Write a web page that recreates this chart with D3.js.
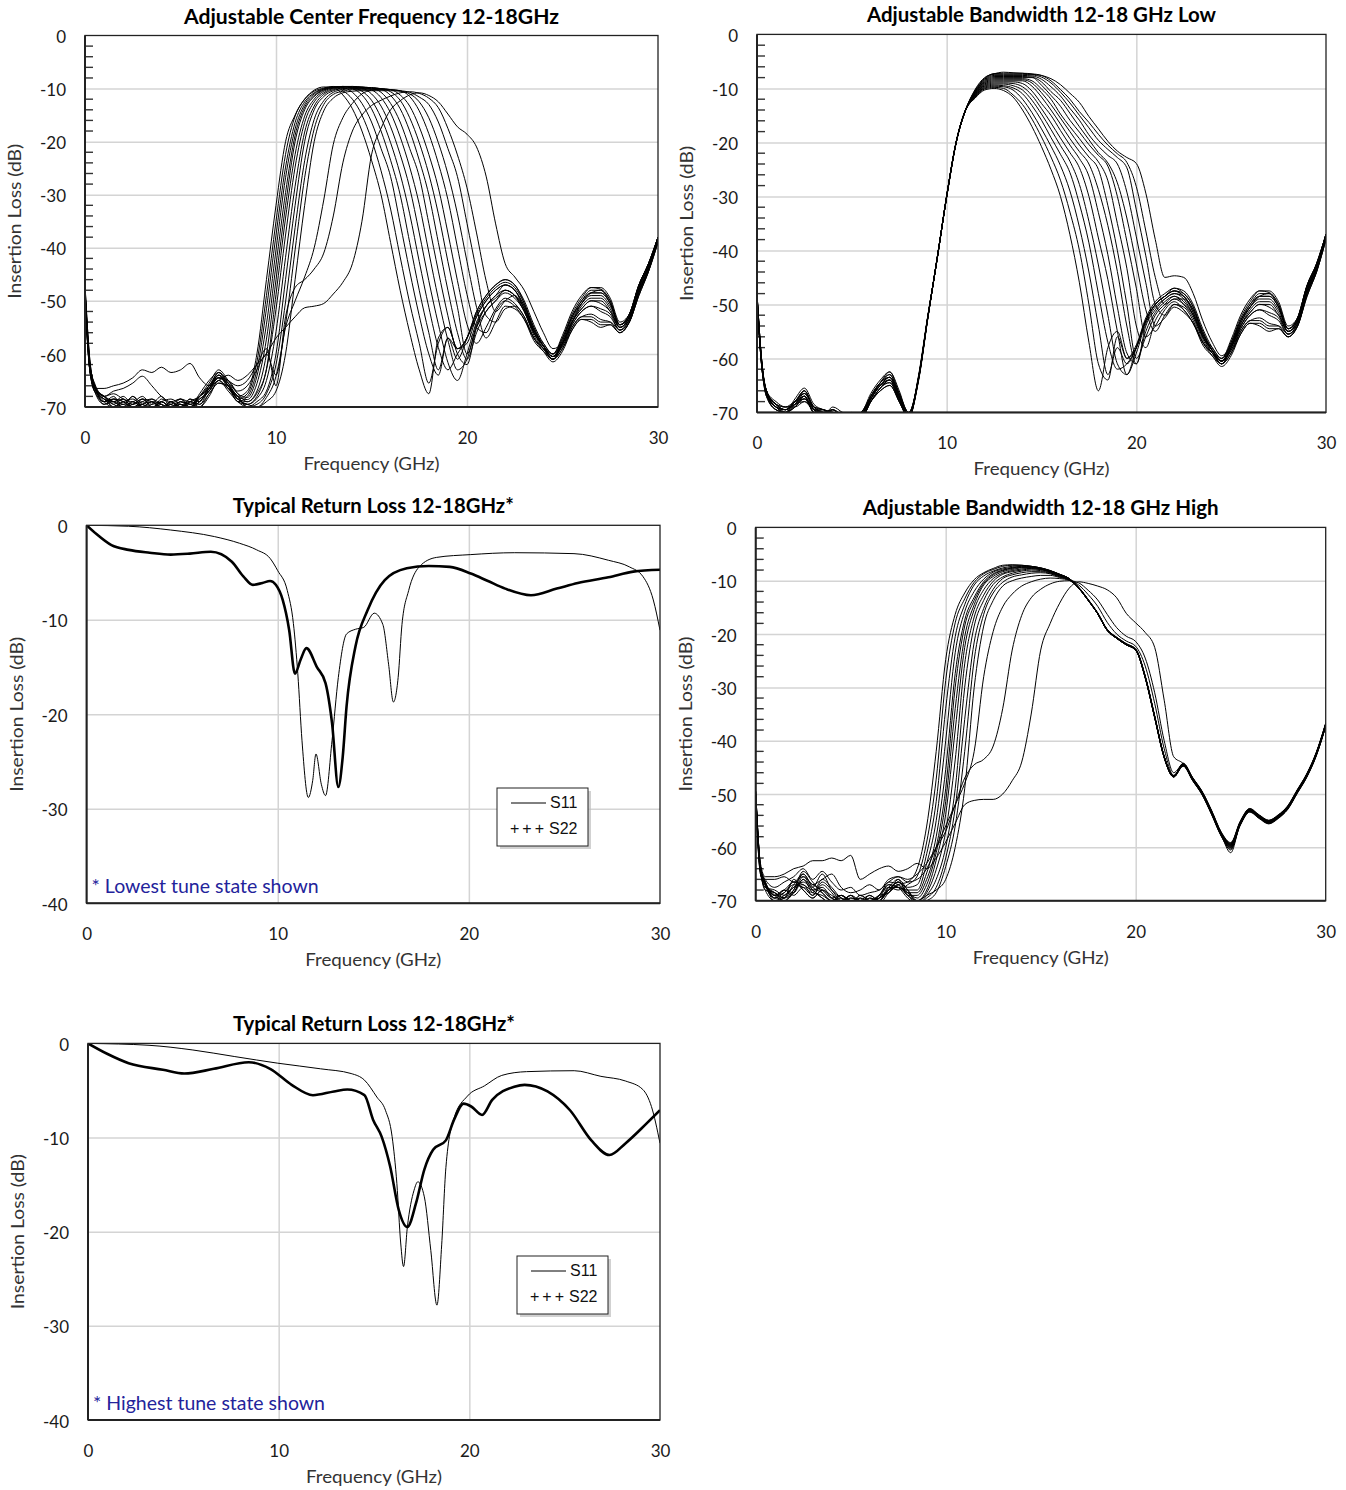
<!DOCTYPE html>
<html>
<head>
<meta charset="utf-8">
<script src="https://cdn.jsdelivr.net/npm/d3@7"></script>
<style>
  body { margin: 0; background: #fff; }
</style>
</head>
<body>
<script>
// frequency grid (GHz) shared by the insertion loss sweeps
const freqGrid = [0,0.25,0.5,1,1.5,2,2.5,3,3.5,4,4.5,5,5.5,6,6.5,7,7.5,8,8.5,9,9.5,10,10.5,11,11.5,12,12.5,13,13.5,14,14.5,15,15.5,16,16.5,17,17.5,18,18.5,19,19.5,20,20.5,21,21.5,22,22.5,23,23.5,24,24.5,25,25.5,26,26.5,27,27.5,28,28.5,29,29.5,30];

const freqTicks = [0, 10, 20, 30];
const freqGridLines = [10, 20];
const ilTicks = [0, -10, -20, -30, -40, -50, -60, -70];
const ilMinor = [-2,-4,-6,-8,-12,-14,-16,-18,-22,-24,-26,-28,-32,-34,-36,-38,-42,-44,-46,-48,-52,-54,-56,-58,-62,-64,-66,-68];
const rlTicks = [0, -10, -20, -30, -40];

// Adjustable Center Frequency 12-18GHz (one row per tune state)
const centerTune = [
  [-48,-62,-66,-68.5,-69,-68,-69.5,-69,-70.5,-68.5,-69.5,-71,-69,-68,-66,-64,-66,-68,
   -67,-60,-46,-32,-20,-15,-12,-10.3,-9.7,-9.8,-11.2,-13.8,-18,-23.5,-30,-39,-48,-56,-63,-67.5,-57,-55,-59,-57,-53,-50,-48,-47,
   -48,-51,-55,-58.5,-60.5,-57,-52.5,-49.5,-47.5,-47.8,-50,-54.5,-52.5,-47,-43,-38],
  [-49,-63,-67,-69,-68.5,-69.5,-68,-70,-69,-69.5,-71,-69.5,-70,-67.5,-65,-63.5,-65.5,-68.5,
   -67.5,-61.5,-49,-35,-22.4,-15.2,-12,-10.5,-9.9,-9.6,-10.4,-12,-15,-19.6,-25.5,-32.7,-41.7,-50.4,-58,-65.5,-58,-55,-59,-57,-52,-49,-47,-46,
   -47,-50.5,-55.5,-58,-60,-57.5,-53,-50,-48,-48,-50.5,-54.5,-52.5,-47,-43,-38],
  [-48,-62,-66.5,-68,-70,-69,-69.5,-68.5,-70,-70.5,-69,-70,-68.5,-69,-66,-64.5,-66,-69,
   -68,-63,-51.5,-37.6,-24.8,-16.4,-12.5,-10.8,-10,-9.7,-9.8,-10.7,-12.8,-16.3,-21.3,-26.6,-35.4,-44.4,-52.8,-60,-64,-57,-59,-58,-53,-50,-48,-47,
   -48,-51,-55.5,-58.5,-61,-58,-53.5,-50.5,-48.5,-48.5,-50.5,-55,-53,-47.5,-43.5,-38.5],
  [-47,-61,-66,-69,-68,-70.5,-69,-70,-69.5,-68,-70,-69.5,-70.5,-68,-65.5,-63,-65,-67.5,
   -68.2,-64.2,-54.4,-40.4,-26.8,-17.6,-13,-11,-10.1,-9.7,-9.6,-10,-11.2,-13.8,-18,-23.5,-30,-39,-48,-56,-63,-57,-61,-57,-52,-49,-47,-46,
   -47,-50,-54.5,-58,-60,-56.5,-52,-49,-47.5,-47.5,-49.5,-54,-52.5,-47,-43,-38],
  [-48.5,-62,-67,-68,-69.5,-68.5,-70,-69,-68.5,-70,-69,-70.5,-69,-69.5,-66.5,-64,-65.5,-68,
   -68.6,-65.6,-57.2,-43.2,-29.6,-18.8,-13.5,-11.3,-10.2,-9.8,-9.6,-9.8,-10.5,-12.2,-15.5,-20.2,-26.1,-33.6,-42.6,-51.2,-58.8,-63,-60,-57,-52.5,-49.5,-47.5,-46.5,
   -47.5,-50.5,-55,-58.5,-60.5,-57.5,-53,-50,-48.5,-48.5,-50.5,-54.5,-53,-47.5,-43.5,-38],
  [-49,-63,-66,-69.5,-69,-70,-68,-69.5,-70,-69,-68.5,-69.5,-70,-68,-66,-63.5,-66,-68.5,
   -69,-67,-60,-46,-32,-20,-14,-11.5,-10.3,-9.8,-9.6,-9.6,-9.9,-11,-13.3,-17.2,-22.4,-28.7,-37.2,-46.2,-54.4,-61.6,-65,-60,-54,-51,-49,-47,
   -48,-51.5,-55.5,-58.5,-60,-57,-53,-50.5,-49,-49,-51,-54.5,-53,-47.5,-43.5,-38.5],
  [-48,-62.5,-66.5,-68.5,-70,-69.5,-70.5,-68.5,-69,-70,-69.5,-68.5,-70,-69,-66.5,-64.5,-65,-67.5,
   -69,-67.4,-62.8,-48.8,-34.4,-22.4,-15.2,-12,-10.5,-9.9,-9.7,-9.6,-9.7,-10.2,-11.7,-14.6,-19.1,-24.8,-31.8,-40.8,-49.6,-57.4,-63,-61,-54.5,-51,-49,-48,
   -49,-52,-56,-58.5,-60.5,-58,-54,-51,-49.5,-49.5,-51.5,-55,-53,-47.5,-43.5,-38],
  [-47.5,-61.5,-66,-69,-68.5,-69,-70,-69.5,-68.5,-69.5,-70.5,-69,-69.5,-68.5,-67,-65,-66.5,-68.5,
   -69.5,-68,-63,-51.6,-37.6,-24.8,-16.4,-12.5,-10.8,-10,-9.7,-9.7,-9.7,-9.9,-10.7,-12.8,-16.3,-21.3,-26.6,-35.4,-44.4,-52.8,-60,-62,-55,-51,-49.5,-48,
   -49,-52,-56,-59,-61,-58,-54,-51.5,-50,-50,-52,-55,-53.5,-48,-44,-38.5],
  [-49,-63,-67,-68.5,-69.5,-70.5,-69,-70,-69,-70.5,-69,-70,-69,-70,-67.5,-65.5,-66.5,-69,
   -69.5,-68.4,-65,-55.8,-41.8,-28.4,-18.2,-13.3,-11.1,-10.2,-9.9,-9.8,-9.8,-9.8,-10.1,-11.3,-13.8,-18,-23.5,-30,-39,-48,-56,-61,-56,-52,-50,-48.5,
   -49.5,-52,-56.5,-59,-61,-58,-54.5,-52,-51,-51.5,-52.5,-55.5,-53.5,-48,-44,-38.5],
  [-48,-62,-66,-69,-70,-69,-68.5,-70,-70.5,-69,-70,-69.5,-70,-69,-67,-64.5,-66,-68,
   -70,-69,-67,-60,-46,-32,-20,-14,-11.5,-10.4,-10,-9.9,-9.9,-9.9,-10,-10.6,-12.2,-15.5,-20.2,-26.1,-33.6,-42.6,-51.2,-60,-55,-52,-50,-48,
   -49,-51.5,-56,-58.5,-60.5,-58.5,-54.5,-52,-51,-52,-53,-55.5,-54,-48.5,-44,-38.5],
  [-49.5,-63,-66.5,-68,-69,-70,-69.5,-68.5,-70,-69.5,-70.5,-69,-69.5,-70,-68,-65,-67,-69,
   -70,-69.5,-67.5,-62,-50.2,-36.2,-23.6,-15.8,-12.3,-10.7,-10.2,-10,-10,-10,-10,-10.2,-11.2,-13.3,-17.2,-22.4,-28.7,-37.2,-46.2,-54.4,-58,-55,-51.5,-49.5,
   -50.5,-53,-57,-59,-61,-59,-55,-53,-52.5,-53.5,-54,-56,-54,-48.5,-44.5,-38.5],
  [-48,-62,-67,-69.5,-68.5,-69,-70.5,-69.5,-69,-70,-69.5,-70.5,-68.5,-69.5,-67.5,-65.5,-66,-68.5,
   -69.5,-70,-68.2,-64.2,-54.4,-40.4,-26.8,-17.6,-13,-11.1,-10.5,-10.2,-10.2,-10.2,-10.2,-10.2,-10.4,-11.5,-14.2,-18.5,-24.1,-30.9,-39.9,-48.8,-55,-56,-52,-50,
   -51,-53.5,-57,-59.5,-61.5,-59.5,-55.5,-53.5,-53.5,-54.5,-54.5,-56,-54,-49,-44.5,-39],
  [-49,-63,-66,-68,-69,-68.5,-70,-69.5,-70.5,-69,-70,-69,-70,-68.5,-67,-64,-66.5,-68,
   -70,-70,-69,-67,-60,-46,-32,-20,-14.2,-11.8,-10.8,-10.5,-10.4,-10.4,-10.4,-10.4,-10.5,-11,-12.5,-15.5,-20.2,-26.1,-33.6,-42.6,-51.2,-57,-54,-51,
   -51.5,-53.5,-57.5,-59.5,-61,-59,-55.5,-53.5,-54,-55,-54.5,-56,-54,-49,-44.5,-39],
  [-47,-61,-66,-68,-67.5,-68.5,-69,-68,-69.5,-69,-70,-68.5,-69.5,-68,-66.5,-64.5,-65.5,-67,
   -66,-63,-60,-64,-55,-50,-45.5,-40,-31,-20.5,-15.5,-12.8,-11,-10.3,-10.1,-10.2,-10.4,-10.7,-11.6,-13,-16.3,-21.3,-26.6,-35.4,-44.4,-52.8,-54,-51.5,
   -51,-53,-57,-59,-60.5,-58.5,-55,-53,-53,-54,-54,-55.5,-53.5,-48.5,-44,-38.5],
  [-48,-62,-65.5,-68,-67,-66.5,-65.5,-64.2,-66,-68,-69,-68.5,-69,-68,-66.5,-63.5,-65,-66,
   -65,-62,-59,-66,-53,-47.5,-46,-44,-41,-34,-24,-18,-15,-13.2,-12.2,-11.4,-10.8,-10.6,-10.9,-11.8,-13.6,-17.5,-22.5,-28.7,-37.2,-46.2,-52,-50,
   -49,-51.5,-56,-58.5,-60.5,-58,-54,-51.5,-50,-50.5,-52,-55,-53,-48,-44,-38.5],
  [-48.5,-62.5,-66.5,-66.5,-66,-65.5,-64.5,-63,-63.5,-62.5,-63.5,-63,-61.8,-64.5,-66,-65,-64,-65,
   -64,-62,-60,-57,-55,-53,-51.3,-51,-50.5,-48.7,-46.5,-43,-35,-22.5,-17.5,-14,-12.3,-11.2,-10.8,-11.3,-12.5,-14.8,-17.2,-18.6,-21,-26.5,-35.5,-43,
   -45.5,-48,-52,-56,-59,-58,-54,-50.5,-48.5,-48,-50,-54.5,-52.5,-47,-43,-38]
];

// Adjustable Bandwidth 12-18 GHz Low
const bwLow = [
  [-48.5,-61,-66,-68.5,-69.5,-68,-66,-69,-70,-69.5,-70.5,-71,-70.5,-67,-64.5,-63,-67,-70.5,
   -64,-52.5,-41.5,-30,-20,-14,-11.8,-10.3,-10,-10.4,-11.6,-14,-17.1,-20.8,-25,-30,-37.1,-46,-57,-66,-58,-55,-60,-58,-53,-50,-48.5,-47.5,
   -48.5,-51,-55,-58.5,-60.5,-57,-52.5,-49.5,-47.5,-47.8,-50,-54.5,-52.5,-46.5,-42.5,-37],
  [-48,-60.5,-66.5,-69,-70,-67.5,-65.5,-68.5,-69.5,-70,-71,-70.5,-70,-66.5,-64,-62.5,-66,-70.5,
   -64.5,-52.8,-41.3,-30.2,-20.1,-14.1,-11.7,-10.1,-9.8,-10,-11.2,-13,-15.7,-19,-22.7,-27,-32.9,-40,-50,-61,-64,-56,-60,-57.5,-52.5,-49.5,-48,-47,
   -48,-50.5,-55.5,-58,-60,-57.5,-53,-50,-48,-48,-50.5,-54.5,-52.5,-46.5,-42.5,-37],
  [-49,-61.5,-66,-68,-69,-68.5,-66.5,-69.5,-70.5,-69,-70,-71,-71,-67.5,-65,-64,-67.5,-71,
   -63.5,-52.2,-41.6,-29.8,-19.9,-13.9,-11.6,-9.95,-9.6,-9.7,-10.3,-12,-14.5,-17.5,-20.7,-24.3,-29,-35.7,-44,-54,-63,-58,-61,-58,-53,-50,-48.5,-47.5,
   -48.5,-51,-55.5,-58.5,-61,-58,-53.5,-50.5,-48.5,-48.5,-50.5,-55,-53,-47,-43,-37.5],
  [-48.5,-61,-67,-69.5,-70,-69,-67,-70,-69.5,-70.5,-70,-71,-70,-67,-64.5,-63.5,-67,-70,
   -64.2,-52.6,-41.4,-30.1,-20,-14,-11.5,-9.8,-9.4,-9.5,-9.9,-11,-13.2,-15.9,-19.1,-22.2,-25.6,-31.4,-38.6,-48,-57,-62,-61,-58,-53,-50,-48.5,-47,
   -47.5,-50,-54.5,-58,-60,-56.5,-52,-49,-47.5,-47.5,-49.5,-54,-52.5,-46.5,-42.5,-37],
  [-48,-60.5,-66,-68.5,-69,-68,-67.5,-69,-70,-69.5,-71,-70.5,-71,-68,-65.5,-64.5,-68,-71,
   -63.8,-52.4,-41.5,-29.9,-20,-14,-11.4,-9.65,-9.2,-9.2,-9.5,-10.3,-12.2,-14.75,-17.6,-20.6,-23.5,-27.8,-34.6,-42.7,-52,-61,-63,-58,-53,-50,-48.5,-47.5,
   -48,-50.5,-55,-58.5,-60.5,-57.5,-53,-50,-48.5,-48.5,-50.5,-54.5,-53,-47,-43,-37],
  [-49,-61.5,-66.5,-69,-70,-68.5,-66,-69.5,-70.5,-70,-70.5,-71,-70.5,-67.5,-65,-63.5,-67.5,-70.5,
   -64,-52.5,-41.5,-30,-20,-14,-11.3,-9.5,-9,-9,-9.1,-9.7,-11.3,-13.75,-16.4,-19.2,-21.9,-24.7,-30,-37.7,-45.4,-55,-63,-59,-53.5,-50.5,-49,-48,
   -48.5,-51.5,-55.5,-58.5,-60,-57,-53,-50.5,-49,-49,-51,-54.5,-53,-47,-43,-37.5],
  [-48.5,-61,-66,-68.5,-69.5,-68,-67,-70,-70,-70.5,-71,-70,-71,-68,-65.5,-64,-67,-71,
   -64.3,-52.7,-41.4,-30.1,-20.1,-14,-11.2,-9.35,-8.8,-8.8,-8.8,-9.1,-10.5,-12.8,-15,-17.8,-20.5,-23,-26.25,-33,-40.8,-50.5,-59,-61,-54,-51,-49,-48,
   -49,-52,-56,-58.5,-60.5,-58,-54,-51,-49.5,-49.5,-51.5,-55,-53,-47,-43,-37],
  [-48,-60.5,-66.5,-69,-69.5,-68.5,-68,-69,-69.5,-70.5,-70.5,-71,-70.5,-67,-64.5,-63,-66.5,-70,
   -63.9,-52.3,-41.6,-29.9,-19.9,-13.9,-11.1,-9.2,-8.6,-8.6,-8.6,-8.6,-9.6,-11.6,-14,-16.6,-19.3,-21.7,-24,-28.75,-35.4,-43.9,-54,-61,-55,-51.5,-49.5,-48.5,
   -49.5,-52,-56,-59,-61,-58,-54,-51.5,-50,-50,-52,-55,-53.5,-47.5,-43.5,-37.5],
  [-49,-61.5,-67,-69.5,-70,-69,-67.5,-69.5,-70,-70,-71,-70.5,-70,-67.5,-65,-64,-67.5,-70.5,
   -64.1,-52.6,-41.5,-30,-20,-14,-11,-9.05,-8.4,-8.4,-8.4,-8.4,-9,-10.8,-13,-15.5,-18,-20.5,-22.7,-25,-31.7,-40,-50,-60,-56,-52,-50,-48.5,
   -50,-52.5,-56.5,-59,-61,-58,-54.5,-52,-51,-51.5,-52.5,-55.5,-53.5,-47.5,-43.5,-37.5],
  [-48.5,-61,-66,-68.5,-69.5,-68,-66.5,-69,-70.5,-70,-70.5,-71,-71,-68,-66,-65,-68,-71,
   -64,-52.5,-41.4,-30,-20,-14,-10.9,-8.9,-8.2,-8.2,-8.2,-8.2,-8.6,-10.1,-12,-14.75,-17.1,-19.3,-21.6,-23.6,-27.1,-35,-43.3,-54,-58,-53,-50.5,-49,
   -50,-52,-56,-58.5,-60.5,-58.5,-54.5,-52,-51,-52,-53,-55.5,-54,-48,-43.5,-37.5],
  [-48,-60.5,-66.5,-69,-70,-68.5,-67,-70,-70,-69.5,-71,-70.5,-70.5,-67,-64.5,-63.5,-67,-70.5,
   -63.7,-52.4,-41.5,-29.9,-20,-14,-10.8,-8.75,-8,-8,-8,-8,-8,-9.4,-11.3,-13.3,-15.9,-18.1,-20.4,-22.4,-24.4,-30,-38.3,-47,-56,-54,-51,-49.5,
   -51,-53.5,-57,-59,-61,-59,-55,-53,-52.5,-53.5,-54,-56,-54,-48,-44,-37.5],
  [-49,-61.5,-66,-68.5,-69,-69,-68,-69.5,-69.5,-70.5,-70,-71,-70,-67.5,-65,-64.5,-67.5,-71,
   -64.2,-52.6,-41.5,-30,-20,-14,-10.7,-8.6,-7.8,-7.8,-7.8,-7.8,-7.9,-8.8,-10.6,-12.2,-14.6,-17.1,-19.5,-21.9,-23.8,-27.5,-34,-42.5,-51,-55,-52,-50,
   -51,-53.5,-57,-59.5,-61.5,-59.5,-55.5,-53.5,-53.5,-54.5,-54.5,-56,-54,-48.5,-44,-38],
  [-48.5,-61,-66.5,-69.5,-70,-68,-66.5,-69,-70,-70,-71,-70.5,-71,-68,-65.5,-64,-68,-70.5,
   -63.9,-52.5,-41.5,-30.1,-20.1,-14,-10.6,-8.45,-7.6,-7.6,-7.6,-7.6,-7.7,-8.3,-9.7,-11.4,-13.7,-15.9,-18.6,-20.7,-22.4,-24,-29.2,-37.5,-46,-54,-52.5,-50.5,
   -51.5,-53.5,-57.5,-59.5,-61,-59,-55.5,-53.5,-54,-55,-54.5,-56,-54,-48.5,-44,-38],
  [-48,-60.5,-66,-69,-69.5,-68.5,-67.5,-70,-70.5,-69.5,-70.5,-71,-70.5,-67,-65,-63.5,-66.5,-70,
   -64,-52.4,-41.4,-30,-20,-14,-10.5,-8.3,-7.4,-7.4,-7.4,-7.4,-7.5,-7.9,-9,-10.7,-12.7,-15,-17.3,-19.6,-21.3,-22.8,-24.7,-32.5,-41,-50,-52,-50,
   -50.5,-53,-57,-59,-60.5,-58.5,-55,-53,-53,-54,-54,-55.5,-53.5,-48,-43.5,-37.5],
  [-49,-61.5,-67,-68.5,-70,-69,-67,-69.5,-70,-70.5,-71,-70,-70.5,-68,-66,-65,-68,-71,
   -64.3,-52.6,-41.6,-30,-19.9,-13.9,-10.35,-8.15,-7.25,-7.2,-7.2,-7.2,-7.3,-7.6,-8.6,-10.2,-12,-14.3,-16.3,-18.5,-20.5,-22.1,-23.7,-28.2,-36.4,-45,-50,-49,
   -49,-51.5,-56,-58.5,-60.5,-58,-54,-51.5,-50,-50.5,-52,-55,-53,-47.5,-43,-37],
  [-48.5,-61,-66.5,-69,-69.5,-68,-66,-69,-69.5,-70,-70.5,-71,-71,-67.5,-64.5,-62.5,-66.5,-70.5,
   -64,-52.5,-41.5,-30,-20,-14,-10.2,-8,-7.3,-7,-7.1,-7.2,-7.4,-7.6,-8.2,-9.3,-10.9,-12.6,-15.2,-17.5,-19.8,-21.6,-22.8,-23.9,-29.4,-38,-45,-44.7,
   -45,-48,-53,-57,-59.5,-57.5,-53.5,-50.5,-48.5,-48,-50,-54.5,-52.5,-46.5,-42.5,-37]
];

// Adjustable Bandwidth 12-18 GHz High
const bwHigh = [
  [-50,-64,-67,-69,-68.5,-66.5,-68,-69.5,-68,-69.5,-70,-69,-70.5,-70,-69.5,-68.5,-67,-66.5,
   -64,-56,-42,-24.8,-16.3,-12.3,-9.8,-8.5,-7.7,-7.1,-7,-7.1,-7.3,-7.6,-8.1,-8.8,-9.6,-11.2,-13.5,-16,-19.1,-20.6,-21.8,-22.8,-27.8,-35.3,-43,-46.6,
   -44.3,-47,-49.6,-53.2,-57.2,-59.2,-55.2,-52.8,-54,-55,-54,-52.3,-49.3,-46.3,-42.3,-36.8],
  [-50.5,-64.5,-67.5,-68.5,-69.5,-67,-65.5,-68,-69.5,-70.5,-69,-70,-69.5,-70.5,-69,-67.5,-68,-67,
   -65.4,-59,-47.2,-28.7,-17.9,-13.4,-10.3,-8.7,-7.9,-7.3,-7.1,-7.1,-7.3,-7.6,-8.1,-8.8,-9.6,-11.3,-13.6,-16.1,-19.2,-20.7,-21.9,-22.9,-28,-35.5,-43.1,-46.7,
   -44.6,-47.3,-50,-53.6,-57.6,-59.8,-55.6,-53.2,-54.4,-55.4,-54.4,-52.7,-49.7,-46.7,-42.7,-37.2],
  [-49.5,-63.5,-66.5,-69.5,-68,-68.5,-66,-67.5,-65,-68,-69.5,-70.5,-70,-69,-70,-68,-66.5,-67.5,
   -67,-61.2,-51.4,-34,-20.5,-14.5,-10.8,-9.1,-8.2,-7.6,-7.3,-7.2,-7.3,-7.6,-8.1,-8.8,-9.6,-11.3,-13.6,-16.2,-19.3,-20.8,-22,-23,-28.2,-35.6,-43,-46.5,
   -44.4,-47.1,-49.7,-53.4,-57.4,-59.4,-55.4,-52.9,-54.1,-55.1,-54.1,-52.4,-49.4,-46.4,-42.4,-36.9],
  [-50,-64,-68,-70,-69,-67.5,-67,-69,-67,-68.5,-70.5,-69.5,-70,-70.5,-69,-67,-67.5,-68,
   -68,-63,-55,-40,-23.5,-15.8,-12,-9.7,-8.4,-7.8,-7.5,-7.3,-7.4,-7.7,-8.2,-8.8,-9.6,-11.4,-13.7,-16.2,-19.3,-20.8,-22,-23,-28.1,-35.7,-43.2,-46.8,
   -44.7,-47.4,-50.1,-53.8,-57.8,-60,-55.8,-53.3,-54.5,-55.5,-54.5,-52.8,-49.8,-46.8,-42.8,-37.3],
  [-51,-65,-67,-68.5,-70,-68,-64.5,-66.5,-68.5,-70,-69,-70.5,-69,-70,-70.5,-68.5,-67,-68.5,
   -68.5,-64.8,-58,-45.4,-27.4,-17.4,-13.1,-10.2,-8.7,-8,-7.6,-7.4,-7.4,-7.7,-8.2,-8.9,-9.6,-11.3,-13.6,-16.1,-19.2,-20.6,-21.8,-22.8,-27.9,-35.4,-42.9,-46.6,
   -44.5,-47.2,-49.8,-53.5,-57.5,-59.5,-55.5,-53,-54.2,-55.2,-54.2,-52.5,-49.5,-46.5,-42.5,-37],
  [-50,-64,-66.5,-69,-68,-69,-67.5,-68.5,-66,-67.5,-69.5,-70,-70.5,-69.5,-70,-67.5,-66,-69,
   -69,-66,-60,-49,-30,-18.5,-13.7,-10.5,-8.9,-8.1,-7.7,-7.5,-7.5,-7.8,-8.3,-8.9,-9.7,-11.3,-13.6,-16.2,-19.3,-20.7,-21.9,-22.9,-28,-35.5,-43,-46.6,
   -44.2,-46.9,-49.5,-53.1,-57.1,-59.1,-55.1,-52.7,-53.9,-54.9,-53.9,-52.2,-49.2,-46.2,-42.2,-36.7],
  [-49.5,-63.5,-67,-69.5,-69.5,-66,-68,-69.5,-68,-69,-70,-69,-70,-70.5,-69.5,-68,-67.5,-68.5,
   -69.5,-67,-61,-51.4,-34,-20.5,-14.5,-10.8,-9.2,-8.3,-7.9,-7.6,-7.6,-7.8,-8.3,-8.9,-9.7,-11.4,-13.7,-16.2,-19.3,-20.8,-22,-23,-28.1,-35.6,-43.1,-46.8,
   -44.8,-47.5,-50.2,-53.9,-57.9,-60.3,-55.9,-53.4,-54.6,-55.6,-54.6,-52.9,-49.9,-46.9,-42.9,-37.3],
  [-50.5,-64.5,-67.5,-68,-69,-67.5,-66.5,-68,-69.5,-70.5,-70,-70.5,-69.5,-70,-69,-66.5,-67,-69,
   -70,-68,-62.4,-53.8,-38,-22.5,-15.4,-11.7,-9.6,-8.6,-8.1,-7.8,-7.7,-7.9,-8.3,-9,-9.7,-11.3,-13.6,-16.1,-19.2,-20.7,-21.9,-22.9,-28,-35.5,-43,-46.6,
   -44.5,-47.3,-49.9,-53.5,-57.6,-59.6,-55.5,-53.1,-54.3,-55.3,-54.3,-52.6,-49.6,-46.6,-42.6,-37.1],
  [-50,-64,-66.5,-69,-70,-68.5,-65.5,-67,-68,-69.5,-69,-70,-70.5,-69,-70,-68,-66.5,-68,
   -70,-68.5,-64.2,-57,-43.6,-25.6,-16.8,-12.7,-10.1,-8.8,-8.3,-8,-7.8,-7.9,-8.4,-9,-9.7,-11.4,-13.7,-16.2,-19.3,-20.8,-22,-23,-28.2,-35.7,-43.2,-46.8,
   -44.4,-47,-49.7,-53.3,-57.3,-59.3,-55.3,-52.9,-54.1,-55.1,-54.1,-52.4,-49.4,-46.4,-42.4,-36.9],
  [-51,-65,-67,-69.5,-68.5,-67,-67.5,-69,-66.5,-68,-70,-69.5,-70,-70.5,-69.5,-67,-67.5,-69.5,
   -70.5,-69,-66,-60,-49,-30,-18.5,-13.7,-10.7,-9.3,-8.6,-8.2,-8,-8.1,-8.5,-9.1,-9.8,-11.3,-13.6,-16.1,-19.2,-20.7,-21.9,-22.9,-28,-35.5,-43,-46.7,
   -44.6,-47.4,-50,-53.7,-57.7,-59.9,-55.7,-53.2,-54.4,-55.4,-54.4,-52.7,-49.7,-46.7,-42.7,-37.2],
  [-50,-64,-68,-68.5,-69.5,-68.5,-66,-68.5,-69,-70,-69.5,-70.5,-69,-70,-69,-68.5,-66,-68,
   -70.5,-69.5,-67.5,-62,-52.6,-36,-21.5,-15.2,-11.6,-9.6,-8.9,-8.5,-8.3,-8.3,-8.6,-9.2,-9.8,-11.4,-13.7,-16.2,-19.3,-20.8,-22,-23,-28.1,-35.6,-43.1,-46.7,
   -44.3,-47.1,-49.6,-53.3,-57.3,-59.4,-55.3,-52.8,-54,-55,-54,-52.3,-49.3,-46.3,-42.3,-36.8],
  [-49.5,-63.5,-66.5,-69,-68,-66.5,-67,-68,-67.5,-69.5,-70.5,-69,-70.5,-69.5,-70,-67.5,-67.5,-69,
   -70.5,-70,-68.5,-63.6,-56,-42,-24.8,-16.3,-12.3,-10.3,-9.3,-8.9,-8.6,-8.5,-8.7,-9.3,-9.8,-11.3,-13.6,-16.1,-19.2,-20.7,-21.9,-22.9,-28,-35.5,-43,-46.6,
   -44.7,-47.5,-50.1,-53.8,-57.8,-60.1,-55.8,-53.3,-54.5,-55.5,-54.5,-52.8,-49.8,-46.8,-42.8,-37.3],
  [-50.5,-64.5,-67,-70,-69.5,-68,-65,-67.5,-68.5,-70,-69,-70,-70,-70.5,-69.5,-68,-66.5,-68.5,
   -70,-69,-68,-66,-60,-49,-30,-18.5,-13.7,-11,-10,-9.5,-9.2,-9,-9,-9.4,-9.9,-11.4,-13.7,-16.2,-19.3,-20.8,-22,-23,-28.2,-35.7,-43.2,-46.8,
   -44.5,-47.2,-49.8,-53.5,-57.5,-59.7,-55.5,-53,-54.2,-55.2,-54.2,-52.5,-49.5,-46.5,-42.5,-37],
  [-50,-64,-66,-67.5,-66.5,-65.5,-64,-66,-64.5,-66.5,-68,-67.5,-69,-68.5,-68,-66.5,-65.5,-66.5,
   -66,-64,-60,-56,-52,-48,-42,-28,-19.5,-14.9,-12.5,-11,-10.2,-9.7,-9.5,-9.6,-9.9,-10.8,-12.6,-14.8,-17.8,-20,-21.3,-22.3,-26,-33,-41.5,-46.5,
   -44.6,-47.3,-50,-53.6,-57.7,-60.5,-55.6,-53.1,-54.3,-55.3,-54.3,-52.6,-49.6,-46.6,-42.6,-37.1],
  [-50.5,-64.5,-66,-66,-65.5,-66.5,-65,-67,-66,-65,-67.5,-68.5,-68,-67,-68,-66,-65.5,-66,
   -65,-63,-60,-57,-52,-47,-44.5,-43.5,-41,-34,-23,-16.5,-13.2,-11.6,-10.6,-10.1,-10,-10.4,-11.8,-13.6,-16.3,-18.8,-20.4,-21.4,-24.5,-31,-40,-46,
   -44.4,-47.1,-49.8,-53.4,-57.4,-59.6,-55.4,-53,-54.2,-55.2,-54.2,-52.5,-49.5,-46.5,-42.5,-37],
  [-49.5,-63,-65.5,-65.5,-65,-64,-63.5,-62.5,-62.5,-62,-62.5,-61.5,-66,-65,-64,-63.5,-64.5,-64,
   -63,-64,-62,-59,-55.5,-52,-51.2,-51,-51,-50,-47.5,-44,-35,-23,-18,-14.2,-11.4,-10.2,-10.5,-11,-11.7,-13.2,-16.1,-17.9,-19.7,-22.5,-32.4,-43,
   -44.3,-47,-49.6,-53.3,-57.6,-61,-55.5,-53,-54,-55,-54,-52.4,-49.4,-46.4,-42.4,-36.9]
];

// Typical return loss, lowest tune state
const rlLowS11Freq = [0,2.2,4.4,6.7,8.0,8.9,9.6,10.0,10.5,10.82,11.05,11.27,11.6,11.83,12.0,12.28,12.5,12.84,13.17,13.6,14.07,14.5,15.05,15.5,15.8,16.05,16.3,16.5,16.85,17.4,18.3,20.1,22.4,25.5,27.3,28.4,29.1,29.65,30];
const rlLowS11 = [0,-0.1,-0.5,-1.2,-1.9,-2.6,-3.5,-4.8,-6.9,-10.4,-15.7,-22.8,-28.8,-27,-24.2,-27.4,-28.6,-22.8,-16.1,-11.5,-11.0,-10.8,-9.3,-10.5,-14.7,-18.7,-16.1,-10.5,-6.9,-4.4,-3.4,-3.1,-2.9,-3.0,-3.7,-4.4,-5.4,-7.9,-11.1];
const rlLowS22Freq = [0,0.5,1.3,2.2,3.3,4.4,5.4,6.5,7.6,8.2,8.7,9.2,9.6,9.9,10.26,10.6,10.9,11.2,11.5,12.05,12.5,12.84,13.17,13.4,13.6,14.07,14.7,15.6,16.75,17.9,19.0,20.1,21.0,21.9,23.25,24.6,25.7,27.3,28.6,30];
const rlLowS22 = [0,-0.9,-2.1,-2.6,-2.9,-3.1,-3.0,-2.8,-3.85,-5.4,-6.3,-6.1,-5.9,-6.3,-7.9,-11.1,-15.7,-14.2,-13.0,-15.0,-16.7,-20.9,-27.7,-24.5,-19.2,-12.8,-9.0,-5.8,-4.55,-4.3,-4.4,-5.1,-5.9,-6.7,-7.4,-6.7,-6.1,-5.5,-4.9,-4.7];

// Typical return loss, highest tune state
const rlHighS11Freq = [0,3.2,5.5,7.7,9.95,12.2,13.8,14.5,15.15,15.6,15.95,16.2,16.4,16.55,16.75,17.1,17.3,17.64,17.98,18.3,18.55,18.77,19.2,19.9,20.8,21.7,23.0,25.5,26.9,28.2,29.1,29.55,30];
const rlHighS11 = [0,-0.2,-0.7,-1.4,-2.1,-2.7,-3.2,-3.9,-5.7,-7.1,-9.9,-14.9,-21.2,-23.7,-19.5,-15.6,-14.7,-16.3,-22,-27.8,-21.4,-13.2,-7.9,-5.6,-4.5,-3.4,-3.0,-2.9,-3.5,-4.0,-4.9,-6.7,-10.6];
const rlHighS22Freq = [0,1.0,2.13,3.93,5.05,6.6,8.43,9.55,10.68,11.8,12.9,13.6,14.5,14.95,15.4,15.85,16.3,16.75,17.2,17.64,18.1,18.77,19.2,19.7,20.1,20.67,21.2,22.36,22.9,24.1,25.28,26.4,27.35,28.2,29.3,30];
const rlHighS22 = [0,-1.1,-2.1,-2.8,-3.2,-2.7,-2.0,-2.7,-4.4,-5.5,-5.1,-4.9,-5.5,-8.1,-9.9,-13.1,-17.7,-19.5,-17.0,-13.4,-11.3,-10.3,-8.1,-6.4,-6.7,-7.6,-6.0,-4.6,-4.4,-5.1,-7.1,-10.3,-11.85,-10.6,-8.5,-7.1];

const FONT = 'Lato, "Open Sans", sans-serif';
const LEGEND_FONT = '"Liberation Sans", Arial, sans-serif';

const svg = d3.select('body').append('svg')
  .attr('width', 1346)
  .attr('height', 1490)
  .style('background', '#fff');

const ilSeries = rows => rows.map(v => ({ f: freqGrid, v: v, w: 1 }));

const panels = [
  { id: 'p1', left: 85, right: 658, top: 35.5, bottom: 407, yMin: -70, ticks: ilTicks, minor: true,
    title: 'Adjustable Center Frequency 12-18GHz', titleW: 375, curves: ilSeries(centerTune) },
  { id: 'p2', left: 757, right: 1326, top: 34.4, bottom: 412.4, yMin: -70, ticks: ilTicks, minor: true,
    title: 'Adjustable Bandwidth 12-18 GHz Low', titleW: 349, curves: ilSeries(bwLow) },
  { id: 'p3', left: 86.6, right: 660, top: 525.3, bottom: 903.3, yMin: -40, ticks: rlTicks, minor: false,
    title: 'Typical Return Loss 12-18GHz*', titleW: 281,
    curves: [{ f: rlLowS11Freq, v: rlLowS11, w: 1 }, { f: rlLowS22Freq, v: rlLowS22, w: 2.6 }],
    note: '* Lowest tune state shown', noteW: 227, legend: [497, 788] },
  { id: 'p4', left: 755.7, right: 1325.7, top: 527.4, bottom: 900.7, yMin: -70, ticks: ilTicks, minor: true,
    title: 'Adjustable Bandwidth 12-18 GHz High', titleW: 356, curves: ilSeries(bwHigh) },
  { id: 'p5', left: 88, right: 660, top: 1043.4, bottom: 1420, yMin: -40, ticks: rlTicks, minor: false,
    title: 'Typical Return Loss 12-18GHz*', titleW: 282,
    curves: [{ f: rlHighS11Freq, v: rlHighS11, w: 1 }, { f: rlHighS22Freq, v: rlHighS22, w: 2.6 }],
    note: '* Highest tune state shown', noteW: 232, legend: [517, 1256] }
];

function drawPanel(p) {
  const x = d3.scaleLinear().domain([0, 30]).range([p.left, p.right]);
  const y = d3.scaleLinear().domain([p.yMin, 0]).range([p.bottom, p.top]);
  const w = p.right - p.left;
  const h = p.bottom - p.top;
  const g = svg.append('g');

  g.append('clipPath').attr('id', 'clip-' + p.id)
    .append('rect').attr('x', p.left).attr('y', p.top).attr('width', w).attr('height', h);

  // grid
  const gy = g.append('g').attr('transform', 'translate(' + p.left + ',0)')
    .call(d3.axisLeft(y).tickValues(p.ticks.filter(t => t > p.yMin && t < 0)).tickSize(-w).tickFormat(''));
  gy.select('.domain').remove();
  gy.selectAll('line').attr('stroke', '#d4d4d4').attr('stroke-width', 1.5);

  const gx = g.append('g').attr('transform', 'translate(0,' + p.bottom + ')')
    .call(d3.axisBottom(x).tickValues(freqGridLines).tickSize(-h).tickFormat(''));
  gx.select('.domain').remove();
  gx.selectAll('line').attr('stroke', '#d4d4d4').attr('stroke-width', 1.5);

  if (p.minor) {
    g.append('g').selectAll('line').data(ilMinor).join('line')
      .attr('x1', p.left).attr('x2', p.left + 8)
      .attr('y1', d => y(d)).attr('y2', d => y(d))
      .attr('stroke', '#333').attr('stroke-width', 1.4);
  }

  const line = d3.line()
    .x(d => x(d[0]))
    .y(d => y(d[1]))
    .curve(d3.curveMonotoneX);

  g.append('g').attr('clip-path', 'url(#clip-' + p.id + ')')
    .selectAll('path').data(p.curves).join('path')
    .attr('d', c => line(c.f.map((f, i) => [f, c.v[i]])))
    .attr('fill', 'none')
    .attr('stroke', '#000')
    .attr('stroke-width', c => c.w)
    .attr('stroke-linejoin', 'round');

  // frame
  g.append('rect').attr('x', p.left).attr('y', p.top).attr('width', w).attr('height', h)
    .attr('fill', 'none').attr('stroke', '#222').attr('stroke-width', 1.3);
  g.append('line').attr('x1', p.left).attr('x2', p.left).attr('y1', p.top).attr('y2', p.bottom)
    .attr('stroke', '#222').attr('stroke-width', 2);
  g.append('line').attr('x1', p.left).attr('x2', p.right).attr('y1', p.bottom).attr('y2', p.bottom)
    .attr('stroke', '#222').attr('stroke-width', 2);

  // tick labels (plain hyphen minus, as in the source chart)
  const ya = g.append('g').attr('transform', 'translate(' + p.left + ',0)')
    .call(d3.axisLeft(y).tickValues(p.ticks).tickSize(0).tickPadding(19).tickFormat(d => String(d)));
  ya.select('.domain').remove();
  ya.attr('font-family', FONT).attr('font-size', 17);
  ya.selectAll('text').attr('fill', '#1a1a1a').attr('dy', '0.42em');

  const xa = g.append('g').attr('transform', 'translate(0,' + p.bottom + ')')
    .call(d3.axisBottom(x).tickValues(freqTicks).tickSize(0).tickFormat(d => String(d)));
  xa.select('.domain').remove();
  xa.attr('font-family', FONT).attr('font-size', 17);
  xa.selectAll('text').attr('fill', '#1a1a1a').attr('y', 37).attr('dy', null);

  // titles
  g.append('text')
    .attr('x', (p.left + p.right) / 2).attr('y', p.top - 12)
    .attr('text-anchor', 'middle')
    .attr('font-family', FONT).attr('font-weight', 'bold').attr('font-size', 20)
    .attr('textLength', p.titleW).attr('lengthAdjust', 'spacingAndGlyphs')
    .text(p.title);

  g.append('text')
    .attr('x', (p.left + p.right) / 2).attr('y', p.bottom + 63)
    .attr('text-anchor', 'middle')
    .attr('font-family', FONT).attr('font-size', 17).attr('fill', '#333')
    .attr('textLength', 136).attr('lengthAdjust', 'spacingAndGlyphs')
    .text('Frequency (GHz)');

  g.append('text')
    .attr('transform', 'translate(' + (p.left - 70) + ',' + ((p.top + p.bottom) / 2) + ') rotate(-90)')
    .attr('text-anchor', 'middle').attr('dy', '0.35em')
    .attr('font-family', FONT).attr('font-size', 17).attr('fill', '#333')
    .attr('textLength', 155).attr('lengthAdjust', 'spacingAndGlyphs')
    .text('Insertion Loss (dB)');

  if (p.note) {
    g.append('text')
      .attr('x', p.left + 5).attr('y', p.bottom - 10)
      .attr('font-family', FONT).attr('font-size', 19).attr('fill', '#23239b')
      .attr('textLength', p.noteW).attr('lengthAdjust', 'spacingAndGlyphs')
      .text(p.note);
  }

  if (p.legend) {
    const [lx, ly] = p.legend;
    const lg = g.append('g');
    lg.append('rect').attr('x', lx + 3).attr('y', ly + 3).attr('width', 91).attr('height', 58)
      .attr('fill', '#bdbdbd').attr('opacity', 0.7);
    lg.append('rect').attr('x', lx).attr('y', ly).attr('width', 91).attr('height', 58)
      .attr('fill', '#fff').attr('stroke', '#222').attr('stroke-width', 1);
    lg.append('line').attr('x1', lx + 14).attr('x2', lx + 49).attr('y1', ly + 15).attr('y2', ly + 15)
      .attr('stroke', '#000').attr('stroke-width', 1);
    lg.append('text').attr('x', lx + 53).attr('y', ly + 20)
      .attr('font-family', LEGEND_FONT).attr('font-size', 16).attr('fill', '#111')
      .text('S11');
    lg.append('text').attr('x', lx + 13).attr('y', ly + 46)
      .attr('font-family', LEGEND_FONT).attr('font-size', 16).attr('fill', '#111')
      .attr('textLength', 34).attr('lengthAdjust', 'spacing')
      .text('+++');
    lg.append('text').attr('x', lx + 52).attr('y', ly + 46)
      .attr('font-family', LEGEND_FONT).attr('font-size', 16).attr('fill', '#111')
      .text('S22');
  }
}

panels.forEach(drawPanel);
</script>
</body>
</html>
